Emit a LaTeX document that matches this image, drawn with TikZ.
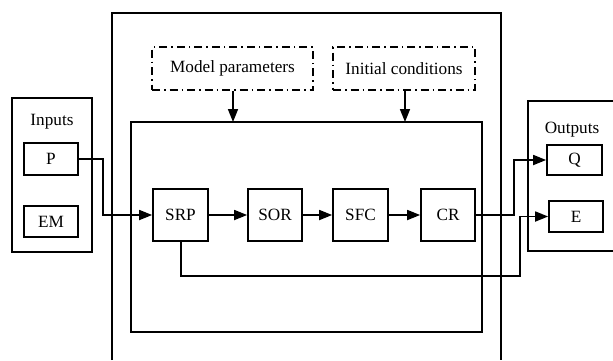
\documentclass[tikz,border=0pt]{standalone}
\usepackage{fontspec}
\setmainfont{Liberation Serif}
\usetikzlibrary{arrows.meta}
\begin{document}
\begin{tikzpicture}[x=1pt,y=-1pt,
  every node/.style={font=\fontsize{17.2}{20}\selectfont},
  blk/.style={draw,line width=1.7pt,inner sep=0pt,minimum width=54pt,minimum height=52pt},
  smallblk/.style={draw,line width=1.7pt,inner sep=0pt,minimum width=54pt,minimum height=31pt},
  dashblk/.style={draw,line width=1.7pt,inner sep=0pt,minimum height=43pt,dash pattern=on 8pt off 4pt on 1.5pt off 4pt},
  frame/.style={line width=1.7pt},
  conn/.style={line width=1.7pt,-{Triangle[length=13pt,width=10pt]}},
  line/.style={line width=1.7pt}
]
\useasboundingbox (0,0) rectangle (613,360);
% outer frame (open at bottom)
\draw[frame] (112,360) -- (112,13) -- (501,13) -- (501,360);
% inner frame
\draw[frame] (131,122) rectangle (482,332);
% inputs frame
\draw[frame] (12,98) rectangle (92,252);
\node (inlab) at (52,122) {Inputs};
\node[smallblk,minimum height=32pt] (P) at (51,159) {P};
\node[smallblk] (EM) at (51,221.5) {EM};
% outputs frame (open at right)
\draw[frame] (613,101) -- (528,101) -- (528,251) -- (613,251);
\node (outlab) at (572,130) {Outputs};
\node[smallblk,minimum width=55pt,minimum height=30pt] (Q) at (574.5,160) {Q};
\node[smallblk] (E) at (576,216.5) {E};
% parameter boxes
\node[dashblk,minimum width=161pt] (MP) at (232.5,68.5) {Model parameters};
\node[dashblk,minimum width=142pt] (IC) at (404,68.5) {Initial conditions};
\coordinate (MPin) at (233,122);
\coordinate (ICin) at (405,122);
\draw[conn] (MP.south -| MPin) -- (MPin);
\draw[conn] (IC.south -| ICin) -- (ICin);
% process blocks
\node[blk,minimum width=55pt] (SRP) at (180.5,215) {SRP};
\node[blk] (SOR) at (275,215) {SOR};
\node[blk,minimum width=55pt] (SFC) at (360.5,215) {SFC};
\node[blk] (CR) at (448,215) {CR};
\draw[conn] (SRP) -- (SOR);
\draw[conn] (SOR) -- (SFC);
\draw[conn] (SFC) -- (CR);
% P to SRP
\coordinate (pk1) at (103,159);
\coordinate (pk2) at (103,215);
\draw[conn] (P.east) -- (pk1) -- (pk2) -- (SRP.west);
% CR to Q
\coordinate (qk1) at (514,215);
\coordinate (qk2) at (514,160);
\draw[conn] (CR.east) -- (qk1) -- (qk2) -- (Q.west);
% SRP to E
\coordinate (ek0) at (181,241);
\coordinate (ek1) at (181,276);
\coordinate (ek2) at (520,276);
\coordinate (ek3) at (520,216.5);
\draw[conn] (ek0) -- (ek1) -- (ek2) -- (ek3) -- (E.west);
\end{tikzpicture}
\end{document}
